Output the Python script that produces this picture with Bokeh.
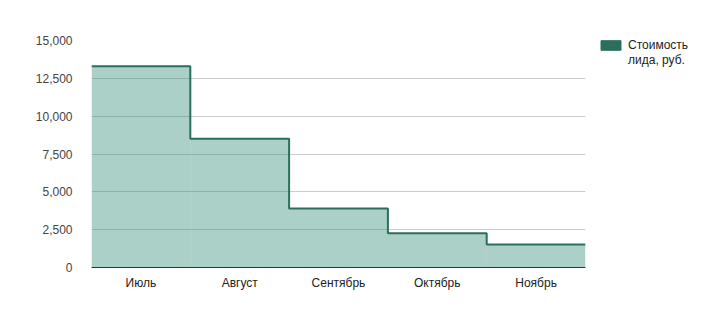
from bokeh.plotting import figure
from bokeh.models import (ColumnDataSource, FixedTicker, NumeralTickFormatter,
                          Legend, LegendItem, Range1d)
from bokeh.embed import file_html
from bokeh.resources import INLINE

months = ["Июль", "Август", "Сентябрь", "Октябрь", "Ноябрь"]
cost = [13300, 8500, 3900, 2270, 1520]
y_ticks = [0, 2500, 5000, 7500, 10000, 12500, 15000]
series_name_lines = ["Стоимость", "лида, руб."]

n = len(months)
centers = [i + 0.5 for i in range(n)]

# step outline built from the data
step_x, step_y = [], []
for i, v in enumerate(cost):
    step_x += [i, i + 1]
    step_y += [v, v]

FONT = "Liberation Sans"
LINE = "#2b6e5d"
NAN = float("nan")

p = figure(frame_width=494, frame_height=227,
           x_range=Range1d(0, n), y_range=Range1d(0, 15000),
           output_backend="svg", toolbar_location=None,
           min_border_left=91, min_border_right=127,
           min_border_top=40, min_border_bottom=55)
p.outline_line_color = None
p.background_fill_color = "white"

src = ColumnDataSource(dict(x=centers, top=cost, m=months))
p.vbar(x="x", top="top", width=1.0, bottom=0, source=src,
       fill_color="#2d8a72", fill_alpha=0.4, line_color=None)
p.line(step_x, step_y, line_color=LINE, line_width=2)
# legend-only renderers (not drawn: NaN coordinates)
swatch = p.quad(left=[NAN], right=[NAN], top=[NAN], bottom=[NAN],
                fill_color=LINE, line_color=LINE)
blank = p.quad(left=[NAN], right=[NAN], top=[NAN], bottom=[NAN],
               fill_alpha=0, line_alpha=0)

# axes
p.xaxis.ticker = FixedTicker(ticks=centers)
p.xaxis.major_label_overrides = {c: m for c, m in zip(centers, months)}
p.xaxis.major_tick_line_color = None
p.xaxis.minor_tick_line_color = None
p.xaxis.axis_line_color = "#333333"
p.xaxis.axis_line_width = 1
p.xaxis.major_label_standoff = 2
p.xaxis.major_label_text_font = FONT
p.xaxis.major_label_text_font_size = "12px"
p.xaxis.major_label_text_color = "#222222"

p.yaxis.ticker = FixedTicker(ticks=y_ticks)
p.yaxis.formatter = NumeralTickFormatter(format="0,0")
p.yaxis.axis_line_color = None
p.yaxis.major_tick_line_color = None
p.yaxis.minor_tick_line_color = None
p.yaxis.major_label_standoff = 13
p.yaxis.major_label_text_font = FONT
p.yaxis.major_label_text_font_size = "12px"
p.yaxis.major_label_text_color = "#444444"

p.xgrid.grid_line_color = None
p.ygrid.ticker = FixedTicker(ticks=y_ticks)
p.ygrid.grid_line_color = "#cccccc"

legend = Legend(items=[LegendItem(label=series_name_lines[0], renderers=[swatch]),
                       LegendItem(label=series_name_lines[1], renderers=[blank])],
                location=(13, 200), glyph_width=25, glyph_height=12,
                label_standoff=5, padding=0, margin=0, spacing=1,
                border_line_color=None, background_fill_alpha=0,
                label_text_font=FONT, label_text_font_size="12px",
                label_text_color="#222222", label_height=12)
p.add_layout(legend, "right")

open("out.html", "w").write(file_html(p, INLINE))
